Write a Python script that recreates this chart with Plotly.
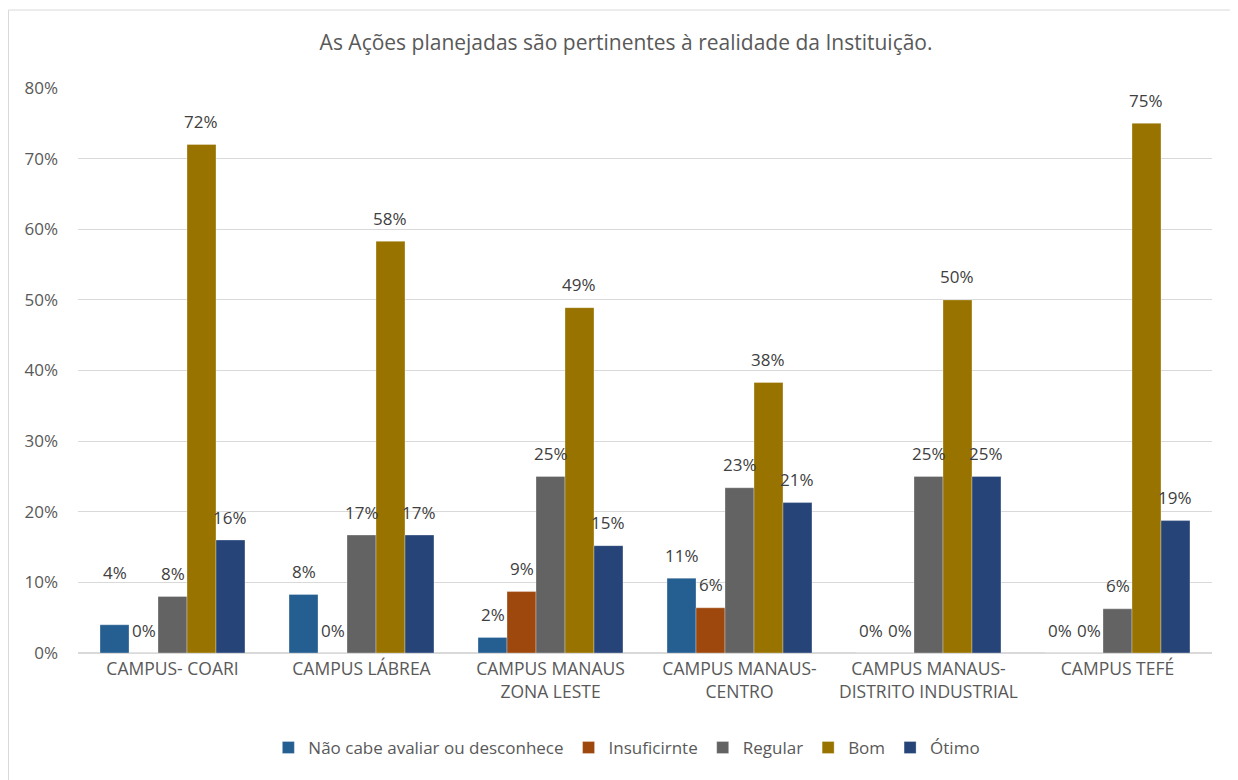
import plotly.graph_objects as go

categories = ["CAMPUS- COARI", "CAMPUS LÁBREA", "CAMPUS MANAUS<br>ZONA LESTE",
              "CAMPUS MANAUS-<br>CENTRO", "CAMPUS MANAUS-<br>DISTRITO INDUSTRIAL", "CAMPUS TEFÉ"]
series_names = ["Não cabe avaliar ou desconhece", "Insuficirnte", "Regular", "Bom", "Ótimo"]
nao_cabe = [0.04, 0.083, 0.022, 0.106, 0.0, 0.0]
insuficiente = [0.0, 0.0, 0.087, 0.064, 0.0, 0.0]
regular = [0.08, 0.167, 0.25, 0.234, 0.25, 0.0625]
bom = [0.72, 0.583, 0.489, 0.383, 0.50, 0.75]
otimo = [0.16, 0.167, 0.152, 0.213, 0.25, 0.1875]
colors = ["#255E91", "#9E480E", "#636363", "#997300", "#264478"]

all_series = [nao_cabe, insuficiente, regular, bom, otimo]
bar_px = 1134 / 6 * (1 - 0.233) / 5

fig = go.Figure()
annotations = []
for si, (name, vals, col) in enumerate(zip(series_names, all_series, colors)):
    fig.add_trace(go.Bar(
        name=name, x=categories, y=vals,
        marker=dict(color=col, line=dict(color="rgba(255,255,255,0.6)", width=0.5)),
    ))
    for ci, v in enumerate(vals):
        shift = 23
        if si == 0 and ci == 0:
            shift = 52  # label lifted to avoid neighbouring label, as in original
        annotations.append(dict(
            x=categories[ci], y=v, xref="x", yref="y",
            xshift=(si - 2) * bar_px, yshift=shift,
            text=f"{round(v*100):.0f}%", showarrow=False,
            xanchor="center", yanchor="middle",
            font=dict(size=17, color="#404040"),
        ))

fig.update_layout(
    width=1230, height=772,
    barmode="group", bargap=0.233, bargroupgap=0,
    paper_bgcolor="white", plot_bgcolor="white",
    font=dict(family="Open Sans, Noto Sans, sans-serif", color="#595959"),
    title=dict(text="As Ações planejadas são pertinentes à realidade da Instituição.",
               x=0.5025, xanchor="center", y=0.9547, yanchor="middle",
               font=dict(size=21, color="#595959")),
    margin=dict(l=70, r=26, t=80, b=127),
    legend=dict(orientation="h", x=0.484, xanchor="center", y=-0.168, yanchor="middle",
                font=dict(size=17, color="#595959"), itemwidth=30, traceorder="normal"),
    shapes=[dict(type="rect", xref="paper", yref="paper", x0=-0.0613, x1=1.0220,
                 y0=-0.26, y1=1.138, line=dict(color="#d9d9d9", width=1))],
    annotations=annotations,
)
fig.update_yaxes(range=[0, 0.8], dtick=0.1, tickformat=".0%", showgrid=True,
                 gridcolor="#d9d9d9", zeroline=True, zerolinecolor="#d9d9d9",
                 tickfont=dict(size=17, color="#595959"), ticks="", showline=False,
                 automargin=False, ticklabelstandoff=19)
fig.update_xaxes(showline=True, linecolor="#d9d9d9", tickfont=dict(size=17.5, color="#595959"),
                 ticks="", automargin=False)

fig.write_html("out.html")
